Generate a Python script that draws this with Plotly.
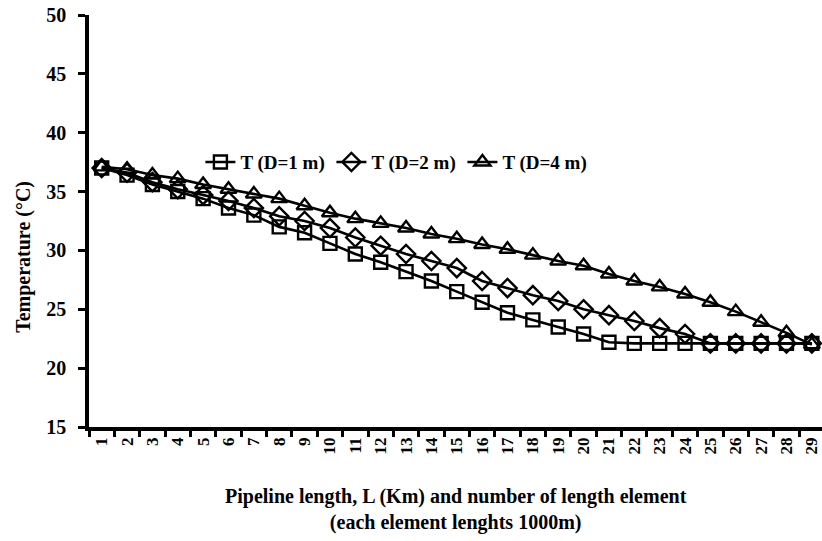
import plotly.graph_objects as go

elements = [str(i) for i in range(1, 30)]
t_d1 = [37.0, 36.4, 35.6, 35.0, 34.4, 33.6, 33.0, 32.0, 31.5, 30.6,
        29.7, 29.0, 28.2, 27.4, 26.5, 25.6, 24.7, 24.1, 23.5, 22.9,
        22.2, 22.1, 22.1, 22.1, 22.1, 22.1, 22.1, 22.1, 22.1]
t_d2 = [37.0, 36.6, 35.8, 35.2, 34.7, 34.2, 33.6, 32.9, 32.5, 31.9,
        31.1, 30.4, 29.7, 29.1, 28.5, 27.4, 26.8, 26.2, 25.7, 25.0,
        24.5, 24.0, 23.4, 22.9, 22.1, 22.1, 22.1, 22.1, 22.1]
t_d4 = [37.1, 36.9, 36.4, 36.1, 35.6, 35.2, 34.8, 34.4, 33.8, 33.2,
        32.7, 32.3, 31.9, 31.4, 31.0, 30.5, 30.1, 29.6, 29.1, 28.7,
        28.0, 27.4, 26.9, 26.3, 25.6, 24.8, 23.9, 23.0, 22.0]
series_names = ["T (D=1 m)", "T (D=2 m)", "T (D=4 m)"]
y_ticks = [15, 20, 25, 30, 35, 40, 45, 50]

FONT = "Liberation Serif"
symbols = ["square-open", "diamond-open", "triangle-up-open"]
sizes = [13, 14, 14]

fig = go.Figure()
for name, vals, sym, sz in zip(series_names, [t_d1, t_d2, t_d4], symbols, sizes):
    fig.add_trace(go.Scatter(
        x=elements, y=vals, name=name, mode="lines+markers",
        line=dict(color="black", width=2.6),
        marker=dict(symbol=sym, size=sz, color="black", line=dict(width=2.4, color="black")),
    ))

fig.update_layout(
    width=822, height=541,
    margin=dict(l=89, r=0, t=15, b=114),
    paper_bgcolor="white", plot_bgcolor="white",
    font=dict(family=FONT, color="black", size=19, weight="bold"),
    showlegend=True,
    legend=dict(
        orientation="h", x=0.152, y=0.643, xanchor="left", yanchor="middle",
        bgcolor="rgba(0,0,0,0)", font=dict(family=FONT, size=19, weight="bold"),
        entrywidth=86, entrywidthmode="pixels", itemwidth=30,
    ),
    xaxis=dict(
        type="category", range=[-0.5, 28.4], automargin=False,
        showline=True, linecolor="black", linewidth=3.5,
        ticks="outside", ticklen=6, tickwidth=3, tickcolor="black",
        tickson="boundaries", tickangle=-90,
        tickfont=dict(family=FONT, size=17, weight="bold"),
        showgrid=False, zeroline=False,
    ),
    yaxis=dict(
        range=[15, 50], tickvals=y_ticks, automargin=False,
        showline=True, linecolor="black", linewidth=3.5,
        ticks="outside", ticklen=7, tickwidth=3, tickcolor="black",
        ticklabelstandoff=8,
        tickfont=dict(family=FONT, size=20, weight="bold"),
        showgrid=False, zeroline=False,
    ),
    annotations=[
        dict(text="Pipeline length, L (Km) and number of length element<br>(each element lenghts 1000m)",
             xref="paper", yref="paper", x=0.5, y=-0.2, xanchor="center", yanchor="middle",
             showarrow=False, font=dict(family=FONT, size=20, weight="bold")),
        dict(text="Temperature (°C)", textangle=-90,
             xref="paper", yref="paper", x=-0.0887, y=0.413, xanchor="center", yanchor="middle",
             showarrow=False, font=dict(family=FONT, size=20, weight="bold")),
    ],
)

fig.write_html("out.html", config={"displayModeBar": False},
               post_script="document.body.style.margin='0px';")
